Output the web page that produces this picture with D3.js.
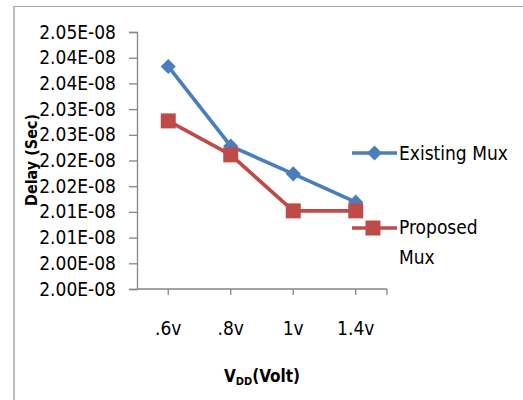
<!DOCTYPE html>
<html>
<head>
<meta charset="utf-8">
<script src="https://cdn.jsdelivr.net/npm/d3@7"></script>
<style>
  html, body { margin: 0; padding: 0; background: #fff; }
  svg { display: block; }
  text { font-family: "Liberation Sans Narrow", "DejaVu Sans Condensed", sans-serif; fill: #000; }
</style>
</head>
<body>
<svg id="chart" width="523" height="400"></svg>
<script>
// Supply voltages on the category axis
const categories = [".6v", ".8v", "1v", "1.4v"];
// Delay in seconds for each multiplexer design
const existingMux = [2.0433e-8, 2.0278e-8, 2.0224e-8, 2.0169e-8];
const proposedMux = [2.0327e-8, 2.0261e-8, 2.0152e-8, 2.0152e-8];
// Value axis: 2.000E-08 .. 2.050E-08 in steps of 0.005E-08, shown with two decimals
const yTickValues = [2.000e-8, 2.005e-8, 2.010e-8, 2.015e-8, 2.020e-8, 2.025e-8,
                     2.030e-8, 2.035e-8, 2.040e-8, 2.045e-8, 2.050e-8];
const yTickLabels = ["2.00E-08", "2.00E-08", "2.01E-08", "2.01E-08", "2.02E-08", "2.02E-08",
                     "2.03E-08", "2.03E-08", "2.04E-08", "2.04E-08", "2.05E-08"];
const seriesNames = ["Existing Mux", "Proposed Mux"];

const svg = d3.select("#chart");
const axisColor = "#868686";
const blue = "#4a7ebb", red = "#be4b48";

// chart frame (top and left edges visible)
svg.append("line").attr("x1", 14).attr("y1", 6.5).attr("x2", 523).attr("y2", 6.5)
  .attr("stroke", "#a6a6a6").attr("stroke-width", 1.2);
svg.append("line").attr("x1", 14).attr("y1", 6).attr("x2", 14).attr("y2", 400)
  .attr("stroke", "#a6a6a6").attr("stroke-width", 1.5);

const plot = { left: 137, right: 387, top: 32, bottom: 289 };

const x = d3.scalePoint().domain(categories).range([plot.left, plot.right]).padding(0.5);
const y = d3.scaleLinear().domain([2.000e-8, 2.050e-8]).range([plot.bottom, plot.top]);

// y axis
const yAxis = d3.axisLeft(y).tickValues(yTickValues)
  .tickFormat((d, i) => yTickLabels[i]).tickSize(8).tickPadding(13);
const gy = svg.append("g").attr("transform", `translate(${plot.left},0)`).call(yAxis);
gy.select(".domain").attr("stroke", axisColor).attr("stroke-width", 1.3);
gy.selectAll(".tick line").attr("stroke", axisColor).attr("stroke-width", 1.3);
gy.selectAll(".tick text").attr("font-size", 19).attr("fill", "#000")
  .attr("font-family", "Liberation Sans Narrow, DejaVu Sans Condensed, sans-serif");

// x axis with a tick at every category and one closing tick at the end
const xAxisLine = svg.append("g").attr("transform", `translate(0,${plot.bottom})`);
xAxisLine.append("line").attr("x1", plot.left).attr("x2", plot.right)
  .attr("stroke", axisColor).attr("stroke-width", 1.3);
const xTickPos = categories.map(c => x(c)).concat([plot.right]);
xAxisLine.selectAll(".xt").data(xTickPos).join("line").attr("class", "xt")
  .attr("x1", d => d).attr("x2", d => d).attr("y1", 0).attr("y2", 6)
  .attr("stroke", axisColor).attr("stroke-width", 1.3);
xAxisLine.selectAll(".xl").data(categories).join("text").attr("class", "xl")
  .attr("x", d => x(d)).attr("y", 46).attr("text-anchor", "middle")
  .attr("font-size", 19).text(d => d);

// axis titles
svg.append("text").attr("transform", "translate(37,160) rotate(-90)")
  .attr("text-anchor", "middle").attr("font-size", 16).attr("font-weight", "bold")
  .text("Delay (Sec)");
const xt = svg.append("text").attr("x", 262).attr("y", 382).attr("text-anchor", "middle")
  .attr("font-size", 17).attr("font-weight", "bold");
xt.append("tspan").text("V");
xt.append("tspan").attr("font-size", 11).attr("dy", 3).text("DD");
xt.append("tspan").attr("dy", -3).text("(Volt)");

// series lines and markers
const line = d3.line().x((d, i) => x(categories[i])).y(d => y(d));
const diamond = d3.symbol().type(d3.symbolDiamond2).size(145);

svg.append("path").datum(existingMux).attr("d", line)
  .attr("fill", "none").attr("stroke", blue).attr("stroke-width", 3.7).attr("stroke-linejoin", "round");
svg.append("path").datum(proposedMux).attr("d", line)
  .attr("fill", "none").attr("stroke", red).attr("stroke-width", 3.7).attr("stroke-linejoin", "round");

svg.selectAll(".dm").data(existingMux).join("path").attr("class", "dm")
  .attr("d", diamond)
  .attr("transform", (d, i) => `translate(${x(categories[i])},${y(d)})`)
  .attr("fill", blue);

const sq = 15;
svg.selectAll(".sq").data(proposedMux).join("rect").attr("class", "sq")
  .attr("x", (d, i) => x(categories[i]) - sq / 2).attr("y", d => y(d) - sq / 2)
  .attr("width", sq).attr("height", sq).attr("fill", red);

// legend
const legend = svg.append("g");
legend.append("line").attr("x1", 352).attr("x2", 397).attr("y1", 153).attr("y2", 153)
  .attr("stroke", blue).attr("stroke-width", 3.7);
legend.append("path").attr("d", diamond).attr("transform", "translate(374.5,153)").attr("fill", blue);
legend.append("text").attr("x", 399).attr("y", 160).attr("font-size", 19).text(seriesNames[0]);

legend.append("line").attr("x1", 352).attr("x2", 397).attr("y1", 228).attr("y2", 228)
  .attr("stroke", red).attr("stroke-width", 3.7);
legend.append("rect").attr("x", 373 - sq / 2).attr("y", 228 - sq / 2)
  .attr("width", sq).attr("height", sq).attr("fill", red);
const lt = legend.append("text").attr("x", 399).attr("y", 234).attr("font-size", 19);
lt.append("tspan").attr("x", 399).text("Proposed");
lt.append("tspan").attr("x", 399).attr("dy", 30).text("Mux");
</script>
</body>
</html>
